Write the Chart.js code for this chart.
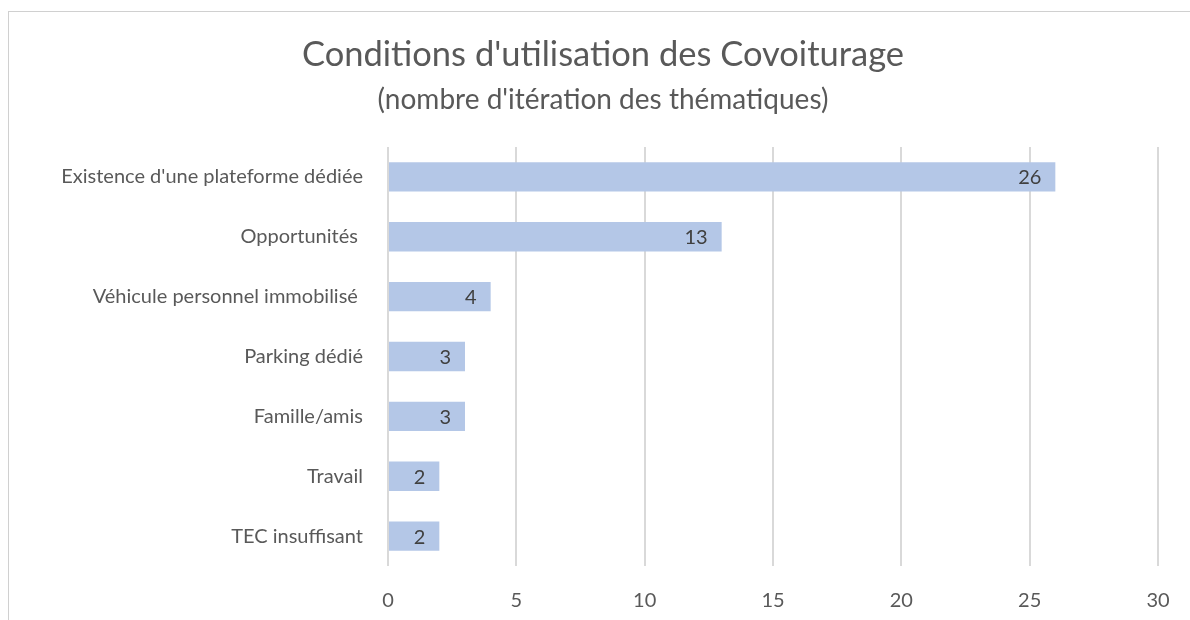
<!DOCTYPE html>
<html>
<head>
<meta charset="utf-8">
<script src="https://cdn.jsdelivr.net/npm/chart.js@4/dist/chart.umd.min.js"></script>
<style>
  html, body { margin: 0; padding: 0; background: #fff; overflow: hidden; }
  #wrap { position: relative; width: 1190px; height: 620px; }
  #frame { position: absolute; left: 8px; top: 11px; width: 1200px; height: 640px; border: 1px solid #d0d0d0; pointer-events: none; }
</style>
</head>
<body>
<div id="wrap">
  <canvas id="chart" width="1190" height="620"></canvas>
  <div id="frame"></div>
</div>
<script>
const categories = [
  "Existence d'une plateforme dédiée",
  'Opportunités ',
  'Véhicule personnel immobilisé ',
  'Parking dédié',
  'Famille/amis',
  'Travail',
  'TEC insuffisant'
];
const iterations = [26, 13, 4, 3, 3, 2, 2];
const xTicks = [0, 5, 10, 15, 20, 25, 30];

const textColor = '#595959';
const fontFamily = 'Lato, "Open Sans", sans-serif';

// valeurs affichées au bout de chaque barre (à l'intérieur)
const barValueLabels = {
  id: 'barValueLabels',
  afterDatasetsDraw(chart) {
    const ctx = chart.ctx;
    const meta = chart.getDatasetMeta(0);
    ctx.save();
    ctx.font = '20px ' + fontFamily;
    ctx.fillStyle = '#404040';
    ctx.textAlign = 'right';
    ctx.textBaseline = 'middle';
    meta.data.forEach((bar, i) => {
      ctx.fillText(String(iterations[i]), bar.x - 14, bar.y + 1);
    });
    ctx.restore();
  }
};

new Chart(document.getElementById('chart'), {
  type: 'bar',
  data: {
    labels: categories,
    datasets: [{
      data: iterations,
      backgroundColor: '#b4c7e7',
      borderWidth: 0,
      barPercentage: 0.49,
      categoryPercentage: 1
    }]
  },
  options: {
    indexAxis: 'y',
    responsive: false,
    animation: false,
    layout: { padding: { left: 48, right: 32, top: 0, bottom: 0 } },
    plugins: {
      legend: { display: false },
      tooltip: { enabled: false },
      title: {
        display: true,
        text: "Conditions d'utilisation des Covoiturage",
        color: textColor,
        font: { family: fontFamily, size: 34.5, weight: 'normal', lineHeight: 1.2 },
        padding: { top: 34, bottom: 8 }
      },
      subtitle: {
        display: true,
        text: "(nombre d'itération des thématiques)",
        color: textColor,
        font: { family: fontFamily, size: 28, weight: 'normal', lineHeight: 1.2 },
        padding: { top: 0, bottom: 30 }
      }
    },
    scales: {
      x: {
        min: 0,
        max: 30,
        afterBuildTicks: scale => { scale.ticks = xTicks.map(v => ({ value: v })); },
        afterFit: scale => {
          scale.height = 54;
          scale.paddingLeft = 0;
          scale.paddingRight = 0;
        },
        grid: { color: '#d9d9d9', lineWidth: 2, drawTicks: false },
        border: { display: false },
        ticks: {
          color: textColor,
          padding: 23,
          font: { family: fontFamily, size: 20 }
        }
      },
      y: {
        afterFit: scale => { scale.width = 340; },
        grid: { display: false, drawTicks: false },
        border: { display: false },
        ticks: {
          color: textColor,
          padding: 25,
          font: { family: fontFamily, size: 20 }
        }
      }
    }
  },
  plugins: [barValueLabels]
});
</script>
</body>
</html>
